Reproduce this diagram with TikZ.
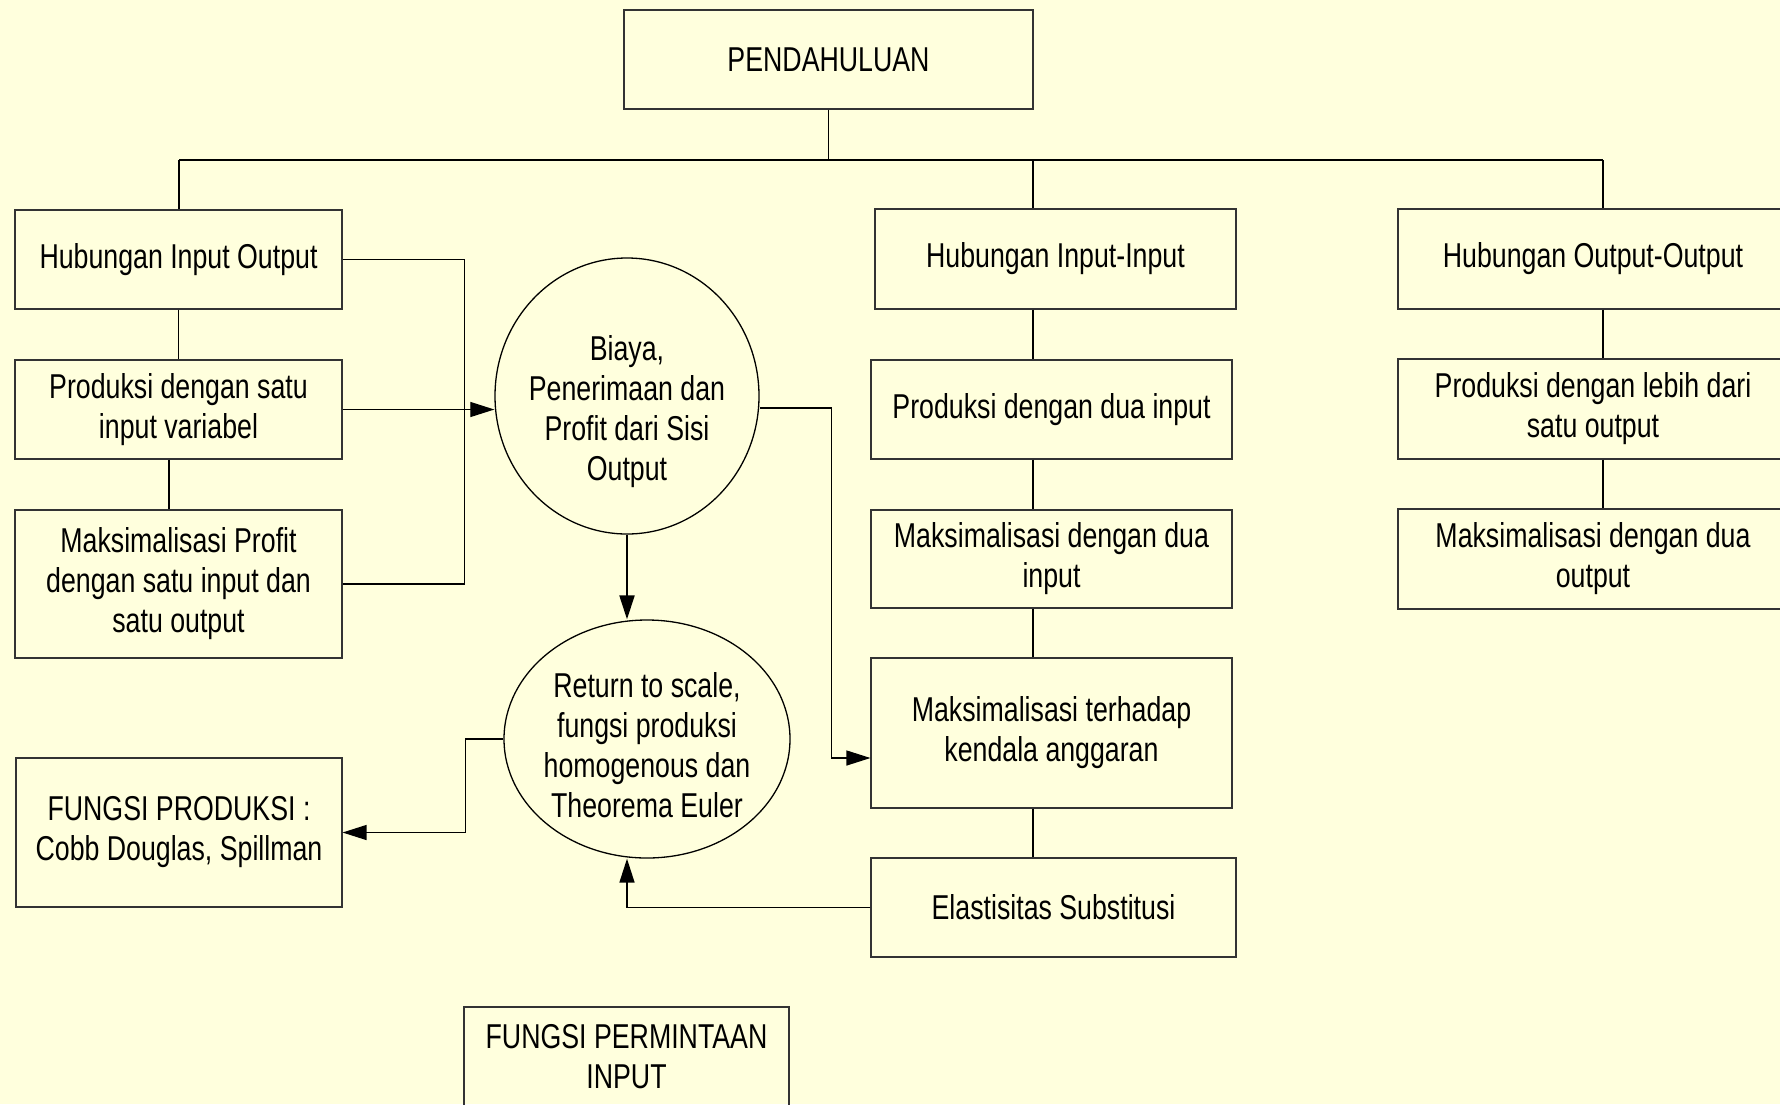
\documentclass[tikz,border=0pt]{standalone}
\usepackage{fontspec}
\setmainfont{Liberation Sans}[FakeStretch=0.775]
\usetikzlibrary{arrows.meta,calc,shapes.geometric}
\definecolor{bg}{RGB}{255,255,221}
\begin{document}
\begin{tikzpicture}[x=1pt,y=-1pt,
  txt/.style={font=\fontsize{34.5}{40}\selectfont, align=center},
  box/.style={txt, draw=black!80, line width=1.1pt, rectangle, inner sep=0pt},
  oval/.style={draw=black, line width=1.3pt, ellipse, inner sep=0pt},
  conn/.style={draw=black, line width=1.2pt},
  arr/.style={conn, -{Triangle[length=24pt,width=15pt]}},
  arrb/.style={arr, line width=2pt}]
\useasboundingbox (0,0) rectangle (1780,1104);
\clip (0,0) rectangle (1780,1104);
\fill[bg] (0,0) rectangle (1780,1104);

% boxes
\node[box, minimum width=409, minimum height=99] (pend) at (828.5,59.5) {PENDAHULUAN};
\node[box, minimum width=327, minimum height=99] (hio) at (178.5,259.5) {Hubungan Input Output};
\node[box, minimum width=327, minimum height=99] (ps) at (178.5,409.5) {Produksi dengan satu\\input variabel};
\node[box, minimum width=327, minimum height=148] (mp) at (178.5,584) {Maksimalisasi Profit\\dengan satu input dan\\satu output};
\node[box, minimum width=326, minimum height=149] (fp) at (179,832.5) {FUNGSI PRODUKSI :\\Cobb Douglas, Spillman};
\node[box, minimum width=325, minimum height=99] (fpi) at (626.5,1056.5) {FUNGSI PERMINTAAN\\INPUT};
\node[box, minimum width=361, minimum height=100] (hii) at (1055.5,259) {Hubungan Input-Input};
\node[box, minimum width=361, minimum height=99] (pdi) at (1051.5,409.5) {Produksi dengan dua input};
\node[box, minimum width=361, minimum height=98] (mdi) at (1051.5,559) {Maksimalisasi dengan dua\\input};
\node[box, minimum width=361, minimum height=150] (mt) at (1051.5,733) {Maksimalisasi terhadap\\kendala anggaran};
\node[box, minimum width=365, minimum height=99] (es) at (1053.5,907.5) {Elastisitas Substitusi};
\node[box, minimum width=390, minimum height=100] (hoo) at (1593,259) {Hubungan Output-Output};
\node[box, minimum width=390, minimum height=100] (pls) at (1593,409) {Produksi dengan lebih dari\\satu output};
\node[box, minimum width=390, minimum height=100] (mdo) at (1593,559) {Maksimalisasi dengan dua\\output};

% ellipses
\node[oval, minimum width=264, minimum height=276] (c1) at (627,396) {};
\node[txt] (c1t) at (627,412) {Biaya,\\Penerimaan dan\\Profit dari Sisi\\Output};
\node[oval, minimum width=286, minimum height=238] (c2) at (647,739) {};
\node[txt] (c2t) at (647,745) {Return to scale,\\fungsi produksi\\homogenous dan\\Theorema Euler};

% tree
\coordinate (busL) at (179,160);
\coordinate (busM) at (1033,160);
\coordinate (busR) at (1603,160);
\draw[conn] (pend.south) -- (pend.south |- busL);
\draw[conn] (busL) -- (busR);
\draw[conn] (busL) -- (busL |- hio.north);
\draw[conn] (busM) -- (busM |- hii.north);
\draw[conn] (busR) -- (busR |- hoo.north);

% left column
\draw[conn] (hio.south) -- (ps.north);
\draw[conn] ($(ps.south)+(-9.5,0)$) -- ($(mp.north)+(-9.5,0)$);
% middle column
\draw[conn] (busM |- hii.south) -- (busM |- pdi.north);
\draw[conn] (busM |- pdi.south) -- (busM |- mdi.north);
\draw[conn] (busM |- mdi.south) -- (busM |- mt.north);
\draw[conn] (busM |- mt.south) -- (busM |- es.north);
% right column
\draw[conn] (busR |- hoo.south) -- (busR |- pls.north);
\draw[conn] (busR |- pls.south) -- (busR |- mdo.north);

% flows
\draw[conn] (hio.east) -- ++(122,0) |- (mp.east);
\draw[arr] (ps.east) -- (ps.east -| c1.west);
\draw[arr] ($(c1.east)+(0,12)$) -- ++(72,0) |- ($(mt.west)+(0,25)$);
\draw[arrb] (c1.south) -- (c1.south |- c2.north);
\draw[arr] (c2.west) -- ++(-38,0) |- (fp.east);
\draw[arr, line width=1.6pt] (es.west) -| ($(c2.south)+(-20,0)$);
\end{tikzpicture}
\end{document}
